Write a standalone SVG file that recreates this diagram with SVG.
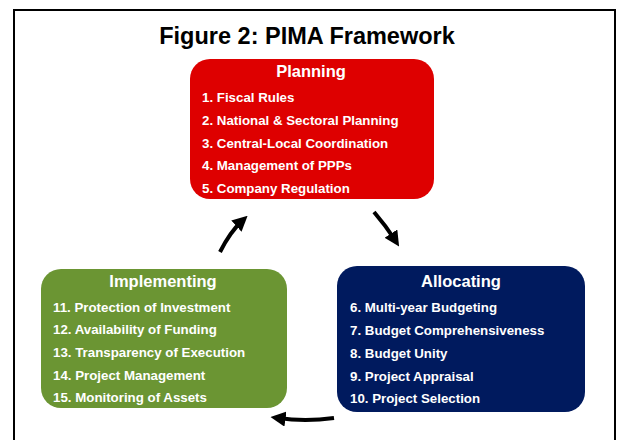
<svg xmlns="http://www.w3.org/2000/svg" width="623" height="440" viewBox="0 0 623 440">
  <style>
    text { font-family: "Liberation Sans", Arial, sans-serif; font-weight: bold; }
    .title { font-size: 23.5px; fill: #000; text-anchor: middle; }
    .head { font-size: 16.5px; fill: #fff; text-anchor: middle; }
    .item { font-size: 13.3px; fill: #fff; }
    .arrow { fill: none; stroke: #000; stroke-width: 4; }
  </style>
  <defs>
    <marker id="head" viewBox="0 0 10 10" refX="5" refY="5" markerWidth="3.8" markerHeight="3.8" orient="auto" markerUnits="strokeWidth">
      <path d="M0,0 L10,5 L0,10 Z" fill="#000"/>
    </marker>
  </defs>

  <!-- outer frame (open at the bottom) -->
  <path d="M14,440 L14,10 L615,10 L615,440" fill="none" stroke="#000" stroke-width="2"/>

  <text class="title" x="307" y="44">Figure 2: PIMA Framework</text>

  <g id="planning">
    <rect x="190" y="59" width="244" height="140" rx="20" fill="#DE0000"/>
    <text class="head" x="311" y="77">Planning</text>
    <text class="item" x="202" y="102">1. Fiscal Rules</text>
    <text class="item" x="202" y="125">2. National &amp; Sectoral Planning</text>
    <text class="item" x="202" y="148">3. Central-Local Coordination</text>
    <text class="item" x="202" y="170">4. Management of PPPs</text>
    <text class="item" x="202" y="193">5. Company Regulation</text>
  </g>

  <g id="allocating">
    <rect x="337" y="266" width="248" height="146" rx="20" fill="#001A5E"/>
    <text class="head" x="461" y="287">Allocating</text>
    <text class="item" x="350" y="312">6. Multi-year Budgeting</text>
    <text class="item" x="350" y="335">7. Budget Comprehensiveness</text>
    <text class="item" x="350" y="358">8. Budget Unity</text>
    <text class="item" x="350" y="381">9. Project Appraisal</text>
    <text class="item" x="350" y="403">10. Project Selection</text>
  </g>

  <g id="implementing">
    <rect x="41" y="269" width="246" height="139" rx="20" fill="#6B9533"/>
    <text class="head" x="163" y="287">Implementing</text>
    <text class="item" x="53" y="312">11. Protection of Investment</text>
    <text class="item" x="53" y="334">12. Availability of Funding</text>
    <text class="item" x="53" y="357">13. Transparency of Execution</text>
    <text class="item" x="53" y="380">14. Project Management</text>
    <text class="item" x="53" y="402">15. Monitoring of Assets</text>
  </g>

  <g id="connectors">
    <path class="arrow" d="M374,212 Q386,226 395,240" marker-end="url(#head)"/>
    <path class="arrow" d="M334,418 Q305,422 278,418" marker-end="url(#head)"/>
    <path class="arrow" d="M220,252 Q230,232 242,221" marker-end="url(#head)"/>
  </g>
</svg>
